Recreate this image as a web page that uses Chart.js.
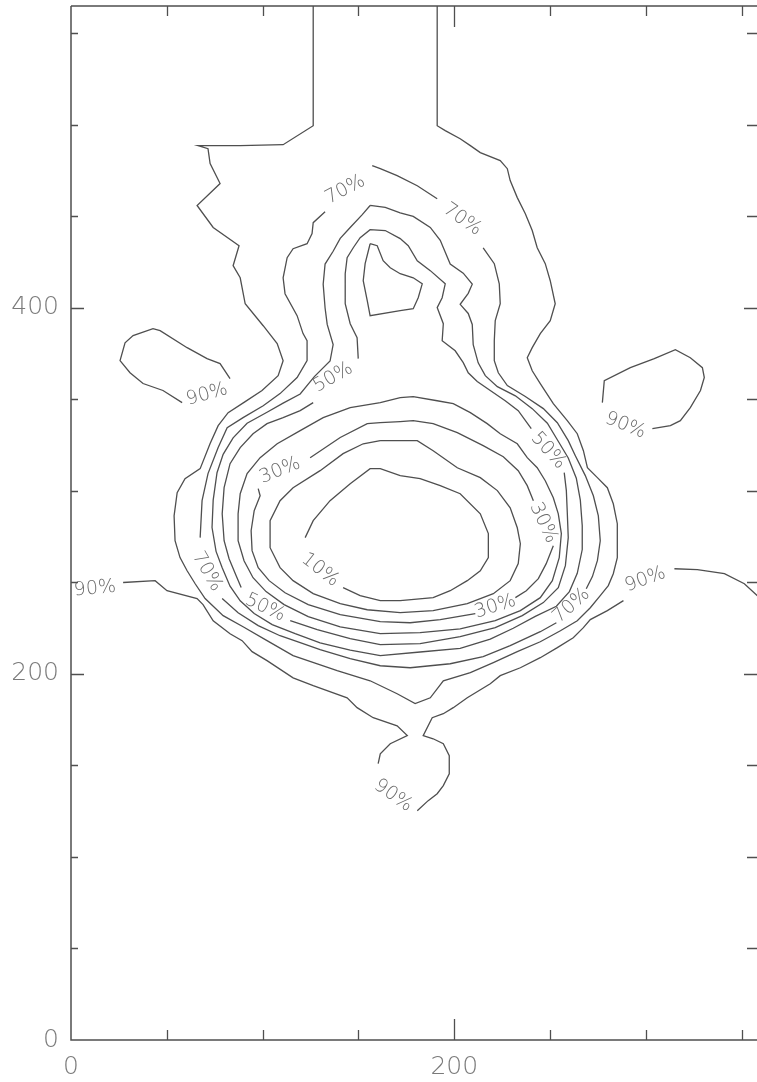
<!DOCTYPE html>
<html>
<head>
<meta charset="utf-8">
<script src="https://cdn.jsdelivr.net/npm/chart.js@4"></script>
<style>
html,body{margin:0;padding:0;background:#fff;}
#wrap{width:757px;height:1082px;position:relative;}
</style>
</head>
<body>
<div id="wrap"><canvas id="c"></canvas></div>
<script>
// Axis extents and tick values (plot units)
const xRange = [0, 358];
const yRange = [0, 565];
const tickStep = 50;
const xLabelValues = [0, 200];
const yLabelValues = [0, 200, 400];

// Contour polylines, [x, y] in plot units. Gaps are left where a level label sits.
const c90Edge = [[27.2,250],[43.9,251],[50.1,245.5],[65.8,241.2],[68.9,237.9],[74.2,229.1],[83,222],[89.3,218.2],[94.5,212.2],[102.3,207.3],[115.9,197.9],[126.4,193.6],[144.1,187],[149.3,181.6],[157.7,176.1],[170.2,171.7],[175.5,166.3],[166.6,161.9],[161.4,156.4],[160.3,151]];
const c90Bulb = [[180.7,125.3],[186.4,130.8],[191.1,134.6],[194.3,139],[197.4,145.5],[197.4,155.4],[194.3,161.9],[189,164.6],[183.8,166.3],[188.5,176.1],[194.3,178.3],[199.5,181.6],[206.8,187],[218.8,194.7],[224,199.1],[234.5,203.4],[244.9,208.9],[253.8,214.4],[262.1,219.8],[267.4,225.3],[271,229.7],[279.9,234.6],[288.3,240.1]];
const c90Right = [[314.9,257.5],[326.9,257],[341,254.8],[351.4,249.3],[358.2,242.8]];
const c90IslandL = [[58,348.3],[48,354.9],[37.6,358.7],[30.8,364.6],[25.6,371.2],[28.2,381],[32.4,384.9],[42.8,388.7],[46.5,387.6],[60.6,378.3],[71,372.3],[77.8,369.6],[83,361.4]];
const c90IslandR = [[277.3,348.3],[278.3,360.3],[291.9,367.4],[304.4,372.3],[315.4,377.2],[323.2,372.8],[329.5,367.4],[330.5,362],[328.5,354.9],[323.2,345.5],[318,338.4],[312.8,335.7],[303.4,334.1]];

const c80 = [[126.4,565],[126.4,499.6],[110.7,489.2],[88.3,488.7],[66.3,488.7],[71.5,487],[72.6,478.9],[77.8,468],[65.8,456],[74.2,444],[87.7,434],[84.6,423.1],[88.3,416.5],[90.9,402.3],[100.3,390.3],[107.6,380.5],[110.7,371.2],[108.1,363],[99.7,354.9],[90.9,348.8],[82,342.8],[76.8,335.7],[72.6,326],[67.4,312.2],[59.5,306.7],[55.4,299.1],[53.8,286.4],[54.3,272.8],[56.9,263.6],[60.6,256.4],[64.8,249.3],[70,241.2],[79.4,231.9],[89.8,225.8],[102.3,218.2],[115.9,210],[138.9,201.8],[156.1,196.3],[170.2,189.2],[179.6,183.8],[187.5,187],[194.3,196.3],[208.4,200.7],[220.4,206.2],[232.9,212.2],[244.9,217.6],[255.4,223.6],[264.2,229.1],[271,236.2],[276.2,242.8],[280.4,248.3],[283,254.8],[285.1,263.6],[285.1,282.1],[283,293],[279.9,301.8],[274.7,307.3],[269.5,312.7],[267.4,322],[264.2,331.3],[259,338.4],[251.7,347.7],[244.9,358.7],[240.7,365.7],[238.1,372.8],[240.7,378.3],[244.9,386],[250.1,393.1],[252.7,402.3],[250.1,414.9],[247.5,424.2],[243.3,432.9],[240.7,442.3],[237.1,451.5],[232.9,460.3],[229.2,469.6],[227.7,476.1],[224,480.5],[213.6,484.9],[208.4,488.7],[203.1,492.5],[195.3,496.9],[191.1,499.6],[191.1,565]];

const c70Top = [[157.2,477.8],[161.4,476.1],[170.2,472.3],[180.7,466.8],[191.1,459.7]];
const c70Right = [[215.1,432.9],[220.9,424.2],[223.5,413.2],[224,402.3],[221.4,393.1],[220.9,382.1],[220.9,371.2],[223,364.6],[227.7,357.6],[237.1,351.6],[246.5,345],[253.8,337.3],[259.5,327.5],[263.2,319.3],[268.4,308.4],[272.6,297.4],[275.2,286.4],[276.2,272.8],[274.7,261.9],[272.1,253.2],[268.9,246.6]];
const c70Bottom = [[253.3,228],[244.9,223.1],[229.2,215.5],[215.1,209.5],[197.9,205.6],[177,203.4],[161.4,204.5],[145.7,208.4],[130,213.3],[119.6,217.1],[109.1,220.9],[97.7,226.4],[87.2,233.5],[78.9,241.2]];
const c70Left = [[67.4,274.5],[68.4,294.7],[71.5,309.5],[76.8,323.7],[81.5,334.6],[89.8,340.1],[100.3,346.6],[109.1,353.2],[118,362],[123.2,371.2],[123.2,382.1],[121.1,386],[118,395.8],[111.7,407.8],[110.7,416.5],[112.8,427.5],[115.9,432.4],[123.2,435.1],[125.8,440.6],[126.4,446.6],[132.6,452.6]];

const c60 = [[156.1,456],[164,455],[171.8,452],[178.6,450],[187.5,444],[192.7,437],[197.9,424],[204.7,419],[209.4,413],[207.3,408],[203.1,402],[207.3,397],[209.4,391],[209.9,380],[212.5,370],[216.2,363],[222.5,357],[231.9,352],[240.7,345],[248.6,337],[253.8,328],[259.5,318],[263.7,307],[265.8,295],[266.8,281],[266.8,268],[264.2,255],[260.1,245],[253.3,237],[242.3,231.5],[230.8,225],[218.8,219],[203.1,214],[182.2,212],[161.4,210],[145.7,213],[130,217],[117,222],[105,227],[95.6,233],[88.3,240],[83,248],[78.9,258],[75.7,267],[73.6,280],[74.2,295],[76.2,310],[79.4,320],[84.6,329],[91.9,337],[102.3,343],[110.7,348],[119.6,353],[127,362.5],[135.2,371],[136.8,380],[133.7,391],[132.6,400],[131.6,413],[132.6,424],[136.8,431],[140.5,438],[145.7,444],[152,451]];

const c50Top = [[149.9,372.3],[149.3,383.8],[145.7,391.4],[143.1,402.3],[143.1,418.7],[144.1,427.5],[147.3,432.9],[150.9,438.4],[156.1,442.8],[164,442.3],[171.8,437.9],[176,434],[180.7,425.8],[187.5,420.4],[195.3,413.2],[193.7,405.6],[191.1,400.2],[194.3,391.4],[193.7,382.1],[200.5,376.6],[204.7,370.1],[207.3,364.6],[212,359.8],[218.8,354.9],[226.6,349.3],[233.4,343.9],[240.2,334.1]];
const c50Right = [[257.4,310],[258.5,300.2],[259,288.1],[259.5,274.5],[258,259.2],[254.3,247.2],[246.5,239],[235.5,231.9],[221.4,225.3],[203.1,220.4],[182.2,216.6],[161.4,216],[145.7,219.3],[128.5,224.2],[114.4,229.1]];
const c50Left = [[88.8,247.2],[86.2,253.7],[82.5,263],[79.9,272.8],[78.9,287.5],[79.9,301.8],[83,314.9],[88.3,323.7],[95,331.3],[102.3,336.8],[110.7,340.1],[119.6,343.9],[126.4,348.3]];

const c40 = [[161.4,348.3],[171.8,351],[178.6,351.6],[191.1,349.3],[199.5,347.7],[208.4,342.8],[217.2,336.8],[224,331.3],[232.9,325.8],[238.1,318.2],[243.3,312.7],[247.5,305.6],[251.7,296.3],[254.3,287.5],[255.9,276.7],[254.8,263.6],[251.2,251],[244.9,241.7],[234.5,234.6],[221.4,229.1],[203.1,224.7],[182.2,222.6],[161.4,222],[140.5,225.8],[123.8,231.3],[111.2,237.9],[101.8,245],[95,252.6],[90.3,261.9],[87.2,272.8],[87.2,287.5],[88.3,298.5],[91.9,309.5],[98.7,318.2],[107.6,325.8],[119.6,333],[131.6,340.1],[145.7,345.5]];
const c40Island = [[156.1,435.1],[159.8,434],[162.9,425.8],[166.6,422],[171.8,418.7],[178.6,416.5],[183.3,413.2],[181.2,405.6],[178.6,399.6],[171.8,398.5],[156.1,395.8],[154.6,404],[152.5,414.9],[153.5,424.2]];

const c30Top = [[124.8,318.2],[140.5,329.2],[154.6,336.8],[161.4,337.3],[171.8,337.9],[178.6,338.4],[189,336.8],[201.6,331.9],[215.1,324.8],[225.6,318.7],[233.4,311.1],[238.1,302.9],[241.3,294.7]];
const c30Right = [[251.7,270.1],[248,260.3],[243.9,252.1],[237.6,245.5],[231.9,241.7]];
const c30Bottom = [[211,233],[192.7,229.7],[177,228],[161.4,228.6],[140.5,232.4],[123.8,237.9],[111.7,244.4],[103.4,251],[97.7,258.1],[94.5,267.4],[94,278.3],[95.6,289.2],[98.7,297.4],[97.7,301.3]];

const c20 = [[161.4,327.5],[171.8,327.5],[180.7,327.5],[189,322],[201.6,312.7],[213.6,307.3],[222.5,300.2],[229.2,290.8],[232.9,279.9],[234.5,271.2],[233.4,260.3],[229.2,251],[220.4,243.9],[206.8,238.4],[189,234.6],[171.8,233.5],[154.6,235.1],[140.5,238.4],[126.4,243.9],[115.9,251],[109.1,258.1],[103.9,269],[103.9,283.8],[109.1,294.7],[115.9,301.8],[130,311.1],[142,320.4],[152.5,325.8]];

const c10 = [[142,247.2],[150.9,242.8],[161.4,240.1],[171.8,240.1],[189,241.7],[197.9,245.5],[206.8,251],[213.6,256.4],[217.8,263.6],[217.8,276.7],[213.6,287.5],[203.1,298.5],[192.7,302.9],[182.2,306.7],[171.8,308.4],[161.4,312.2],[156.1,312.2],[145.7,304],[135.2,294.7],[126.4,283.8],[122.2,274.5]];

// Level labels: text, anchor (plot units), rotation in degrees
const levelLabels = [
  ['90%', 12.5, 246.6, -5], ['90%', 71, 352.7, -16], ['90%', 168.1, 133.5, 35],
  ['90%', 289.3, 335.7, 22], ['90%', 299.7, 251.6, -20],
  ['70%', 143.1, 464.6, -28], ['70%', 204.2, 448.3, 35], ['70%', 71, 255.9, 60], ['70%', 261.1, 237.3, -42],
  ['50%', 136.8, 362, -30], ['50%', 249.1, 322, 48], ['50%', 101.3, 236.2, 25],
  ['30%', 109.1, 311.1, -22], ['30%', 246.5, 282.6, 65], ['30%', 221.4, 236.8, -18],
  ['10%', 130, 256.9, 38]
];

const openPaths = [c90Edge, c90Bulb, c90Right, c90IslandL, c90IslandR, c80,
  c70Top, c70Right, c70Bottom, c70Left, c50Top, c50Right, c50Left,
  c30Top, c30Right, c30Bottom, c10];
const closedPaths = [c60, c40, c40Island, c20];

const LINE = '#4f4f4f';
const TEXT = '#7a7a7a';
const FONT = '"DejaVu Sans", sans-serif';

function toDataset(path, closed) {
  const pts = path.map(p => ({x: p[0], y: p[1]}));
  if (closed) pts.push({x: path[0][0], y: path[0][1]});
  return {data: pts, showLine: true, borderColor: LINE, borderWidth: 1.3,
          pointRadius: 0, pointHoverRadius: 0, fill: false, tension: 0};
}

const datasets = openPaths.map(p => toDataset(p, false))
  .concat(closedPaths.map(p => toDataset(p, true)));

// Frame, inward ticks and the level labels
const framePlugin = {
  id: 'frame',
  afterDatasetsDraw(chart) {
    const {ctx, chartArea: a, scales: {x, y}} = chart;
    ctx.save();
    // level labels
    ctx.fillStyle = '#6a6a6a';
    ctx.font = '200 19px ' + FONT;
    ctx.textAlign = 'center';
    ctx.textBaseline = 'middle';
    levelLabels.forEach(([t, lx, ly, ang]) => {
      ctx.save();
      ctx.translate(x.getPixelForValue(lx), y.getPixelForValue(ly));
      ctx.rotate(ang * Math.PI / 180);
      ctx.fillText(t, 0, 0);
      ctx.restore();
    });
    // frame
    ctx.strokeStyle = LINE;
    ctx.lineWidth = 1.5;
    ctx.beginPath();
    ctx.moveTo(a.left, a.top); ctx.lineTo(a.right, a.top);
    ctx.moveTo(a.left, a.top); ctx.lineTo(a.left, a.bottom);
    ctx.lineTo(a.right, a.bottom);
    ctx.stroke();
    // ticks pointing inward
    ctx.lineWidth = 1.3;
    ctx.beginPath();
    for (let v = tickStep; v < xRange[1]; v += tickStep) {
      const px = Math.round(x.getPixelForValue(v)) + 0.5;
      const major = xLabelValues.includes(v);
      const len = major ? 21 : 10;
      ctx.moveTo(px, a.bottom); ctx.lineTo(px, a.bottom - len);
      ctx.moveTo(px, a.top); ctx.lineTo(px, a.top + len);
    }
    for (let v = tickStep; v < yRange[1]; v += tickStep) {
      const py = Math.round(y.getPixelForValue(v)) + 0.5;
      const major = yLabelValues.includes(v);
      ctx.moveTo(a.left, py); ctx.lineTo(a.left + (major ? 13 : 7), py);
      ctx.moveTo(a.right, py); ctx.lineTo(a.right - (major ? 13 : 10), py);
    }
    ctx.stroke();
    ctx.restore();
  }
};

new Chart(document.getElementById('c'), {
  type: 'scatter',
  data: {datasets},
  options: {
    responsive: true,
    maintainAspectRatio: false,
    devicePixelRatio: 1,
    animation: false,
    events: [],
    layout: {padding: {top: 6, right: 0, bottom: 0, left: 0}},
    plugins: {legend: {display: false}, tooltip: {enabled: false}},
    scales: {
      x: {
        type: 'linear', min: xRange[0], max: xRange[1],
        grid: {display: false, drawTicks: false},
        border: {display: false},
        afterFit: s => { s.height = 42; s.paddingLeft = 0; s.paddingRight = 0; },
        ticks: {
          stepSize: tickStep, includeBounds: false, autoSkip: false, maxRotation: 0,
          padding: 12, color: TEXT, font: {family: FONT, size: 25, weight: '200'},
          callback: v => xLabelValues.includes(v) ? String(v) : ''
        }
      },
      y: {
        type: 'linear', min: yRange[0], max: yRange[1],
        grid: {display: false, drawTicks: false},
        border: {display: false},
        afterFit: s => { s.width = 71; s.paddingTop = 0; s.paddingBottom = 0; },
        ticks: {
          stepSize: tickStep, includeBounds: false, autoSkip: false,
          padding: 12, color: TEXT, font: {family: FONT, size: 25, weight: '200'},
          callback: v => yLabelValues.includes(v) ? String(v) : ''
        }
      }
    }
  },
  plugins: [framePlugin]
});
</script>
</body>
</html>
